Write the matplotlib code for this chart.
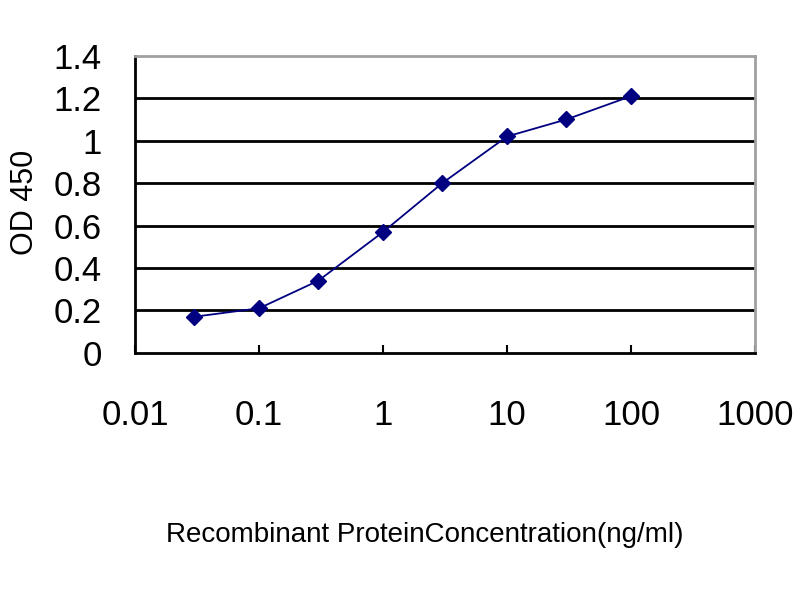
import numpy as np
import matplotlib
matplotlib.use("Agg")
import matplotlib.pyplot as plt
from matplotlib.ticker import FixedLocator, FixedFormatter, NullLocator

# 読み取った値
conc = [0.03, 0.1, 0.3, 1, 3, 10, 30, 100]
od450 = [0.17, 0.21, 0.34, 0.57, 0.80, 1.02, 1.10, 1.21]

x_ticks = [0.01, 0.1, 1, 10, 100, 1000]
x_labels = ["0.01", "0.1", "1", "10", "100", "1000"]
y_ticks = [0, 0.2, 0.4, 0.6, 0.8, 1, 1.2, 1.4]
y_labels = ["0", "0.2", "0.4", "0.6", "0.8", "1", "1.2", "1.4"]

plt.rcParams['font.family'] = ['Liberation Sans', 'DejaVu Sans']

fig = plt.figure(figsize=(8, 6), dpi=100)
ax = fig.add_axes([0.169, 0.412, 0.775, 0.495])

ax.plot(conc, od450, color='#000080', linewidth=1.3, marker='D',
        markersize=8, markerfacecolor='#000080', markeredgecolor='#000080')

ax.set_xscale('log')
ax.set_xlim(0.01, 1000)
ax.set_ylim(0, 1.4)

# 横グリッド線
for y in y_ticks[1:-1]:
    ax.axhline(y, color='black', linewidth=2, zorder=0)

ax.xaxis.set_major_locator(FixedLocator(x_ticks))
ax.xaxis.set_major_formatter(FixedFormatter(x_labels))
ax.xaxis.set_minor_locator(NullLocator())
ax.yaxis.set_major_locator(FixedLocator(y_ticks))
ax.yaxis.set_major_formatter(FixedFormatter(y_labels))

ax.tick_params(axis='x', direction='in', length=6, width=1.5, pad=33, labelsize=25)
ax.tick_params(axis='y', length=0, pad=24, labelsize=25)

ax.spines['left'].set_linewidth(2)
ax.spines['bottom'].set_linewidth(2)
ax.spines['top'].set_color('#a0a0a0')
ax.spines['right'].set_color('#a0a0a0')
ax.spines['top'].set_linewidth(2)
ax.spines['right'].set_linewidth(2)

# 軸ラベル
fig.text(25 / 800, 1 - 202 / 600, "OD 450", fontsize=22, rotation=90,
         ha='center', va='center')
fig.text(425 / 800, 1 - 535 / 600, "Recombinant ProteinConcentration(ng/ml)",
         fontsize=20, ha='center', va='center')

fig.savefig("out.png", dpi=100)
